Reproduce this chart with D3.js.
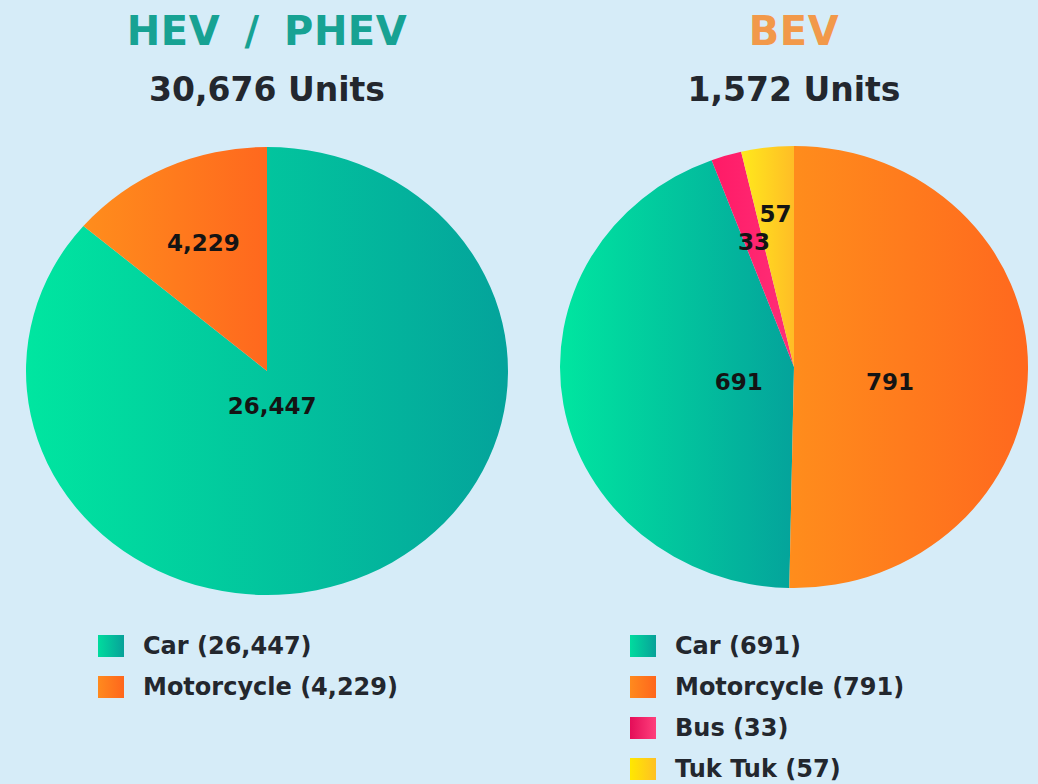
<!DOCTYPE html>
<html>
<head>
<meta charset="utf-8">
<script src="https://cdn.jsdelivr.net/npm/d3@7"></script>
<style>
  html, body { margin: 0; padding: 0; background: #d6ecf8; }
  svg { display: block; font-family: "DejaVu Sans", sans-serif; }
</style>
</head>
<body>
<div id="chart"></div>
<script>
// data
const hevCategories = ["Car", "Motorcycle"];
const hevValues = [26447, 4229];
const hevPieOrder = ["Car", "Motorcycle"];

const bevCategories = ["Car", "Motorcycle", "Bus", "Tuk Tuk"];
const bevValues = [691, 791, 33, 57];
const bevPieOrder = ["Motorcycle", "Car", "Bus", "Tuk Tuk"];

const chartTitles = ["HEV / PHEV", "BEV"];

const width = 1038, height = 784;
const fmt = d3.format(",");

// gradient stops per category (left -> right)
const colors = {
  "Car": ["#00e6a0", "#04a39b"],
  "Motorcycle": ["#ff8d1c", "#ff681e"],
  "Bus": ["#ff1a66", "#ff2f78"],
  "Tuk Tuk": ["#ffe91c", "#ffbd26"]
};
const legendColors = {
  "Car": ["#00dc9e", "#08a199"],
  "Motorcycle": ["#ff8a1e", "#ff661c"],
  "Bus": ["#e40d58", "#ff3f7c"],
  "Tuk Tuk": ["#ffe800", "#ffc024"]
};

const svg = d3.select("#chart")
  .append("svg")
  .attr("width", width)
  .attr("height", height);

svg.append("rect")
  .attr("width", width)
  .attr("height", height)
  .attr("fill", "#d6ecf8");

const defs = svg.append("defs");
function addGradient(id, stops) {
  const g = defs.append("linearGradient")
    .attr("id", id)
    .attr("x1", "0%").attr("x2", "100%")
    .attr("y1", "0%").attr("y2", "0%");
  g.append("stop").attr("offset", "0%").attr("stop-color", stops[0]);
  g.append("stop").attr("offset", "100%").attr("stop-color", stops[1]);
}
Object.keys(colors).forEach(k => addGradient("g-" + k.replace(" ", ""), colors[k]));
Object.keys(legendColors).forEach(k => addGradient("l-" + k.replace(" ", ""), legendColors[k]));

const charts = [
  {
    title: chartTitles[0], titleColor: "#17a293", wordSpacing: 10,
    cats: hevCategories, vals: hevValues, order: hevPieOrder,
    cx: 267, cy: 371, rx: 241, ry: 224,
    labelR: {"Car": 0.17, "Motorcycle": 0.63},
    labelDx: {"Car": -12},
    legendX: 98, legendY: 635
  },
  {
    title: chartTitles[1], titleColor: "#f2994a", wordSpacing: 0,
    cats: bevCategories, vals: bevValues, order: bevPieOrder,
    cx: 794, cy: 367, rx: 234, ry: 221,
    labelR: {"Motorcycle": 0.41, "Car": 0.24, "Bus": 0.59, "Tuk Tuk": 0.70},
    labelDy: {"Motorcycle": 14, "Car": 6},
    legendX: 630, legendY: 635
  }
];

charts.forEach(c => {
  const data = c.cats.map((name, i) => ({name: name, value: c.vals[i]}));
  const total = d3.sum(c.vals);

  // titles
  svg.append("text")
    .attr("x", c.cx)
    .attr("y", 45)
    .attr("text-anchor", "middle")
    .style("font-size", "40px")
    .style("font-weight", "bold")
    .style("letter-spacing", "0.5px")
    .style("word-spacing", c.wordSpacing + "px")
    .attr("fill", c.titleColor)
    .text(c.title);

  svg.append("text")
    .attr("x", c.cx)
    .attr("y", 101)
    .attr("text-anchor", "middle")
    .style("font-size", "33px")
    .style("font-weight", "bold")
    .attr("fill", "#23272e")
    .text(fmt(total) + " Units");

  // pie
  const pie = d3.pie()
    .sort((a, b) => c.order.indexOf(a.name) - c.order.indexOf(b.name))
    .value(d => d.value);
  const arcs = pie(data);
  const arc = d3.arc().innerRadius(0).outerRadius(c.rx);

  const g = svg.append("g")
    .attr("transform", `translate(${c.cx},${c.cy}) scale(1,${c.ry / c.rx})`);

  g.selectAll("path")
    .data(arcs)
    .enter()
    .append("path")
    .attr("d", arc)
    .attr("fill", d => `url(#g-${d.data.name.replace(" ", "")})`);

  // value labels (drawn unscaled so the text is not squashed)
  const dx = c.labelDx || {}, dy = c.labelDy || {};
  const lg = svg.append("g").attr("transform", `translate(${c.cx},${c.cy})`);
  lg.selectAll("text")
    .data(arcs)
    .enter()
    .append("text")
    .attr("transform", d => {
      const r = c.rx * c.labelR[d.data.name];
      const p = d3.arc().innerRadius(r).outerRadius(r).centroid(d);
      const x = p[0] + (dx[d.data.name] || 0);
      const y = p[1] * c.ry / c.rx + (dy[d.data.name] || 0);
      return `translate(${x},${y})`;
    })
    .attr("text-anchor", "middle")
    .attr("dy", "0.36em")
    .style("font-size", "23px")
    .style("font-weight", "bold")
    .attr("fill", "#141414")
    .text(d => fmt(d.data.value));

  // legend
  const leg = svg.append("g")
    .attr("transform", `translate(${c.legendX},${c.legendY})`);
  const rows = leg.selectAll("g")
    .data(data)
    .enter()
    .append("g")
    .attr("transform", (d, i) => `translate(0,${i * 41})`);
  rows.append("rect")
    .attr("width", 26)
    .attr("height", 22)
    .attr("fill", d => `url(#l-${d.name.replace(" ", "")})`);
  rows.append("text")
    .attr("x", 45)
    .attr("y", 19)
    .style("font-size", "24px")
    .style("font-weight", "bold")
    .attr("fill", "#23272e")
    .text(d => `${d.name} (${fmt(d.value)})`);
});
</script>
</body>
</html>
